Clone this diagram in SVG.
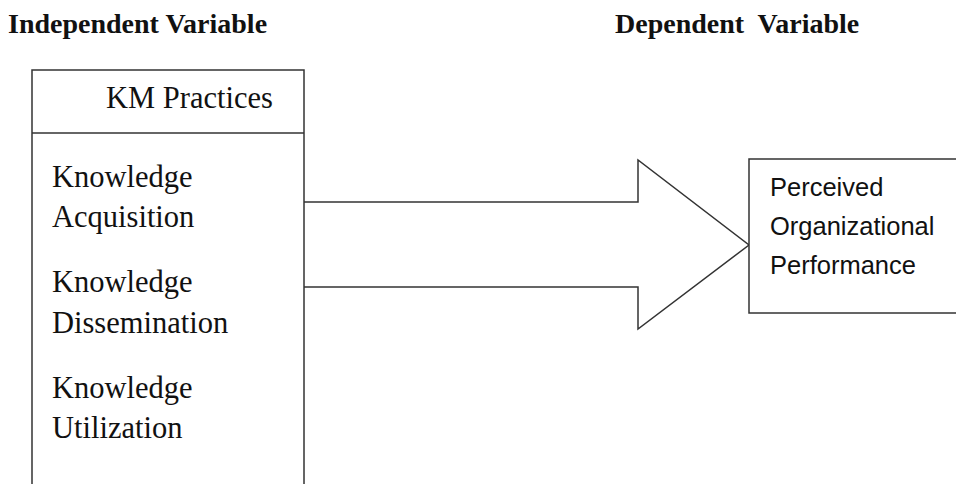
<svg xmlns="http://www.w3.org/2000/svg" width="956" height="484" viewBox="0 0 956 484">
<style>
.box{fill:#fff;stroke:#333;stroke-width:1.5}
.hdr{font-family:"Liberation Serif",serif;font-weight:bold;font-size:28px;fill:#111}
.ser{font-family:"Liberation Serif",serif;font-size:30.5px;fill:#111}
.sans{font-family:"Liberation Sans",Arial,sans-serif;font-size:25.5px;fill:#111}
</style>
<rect width="956" height="484" fill="#fff"/>
<text class="hdr" x="8" y="33">Independent Variable</text>
<text class="hdr" x="615" y="33" xml:space="preserve">Dependent  Variable</text>
<g id="connectors">
<path class="box" d="M304,202 H638 V160 L749,245 L638,329 V287 H304"/>
</g>
<g id="km">
<rect class="box" x="32" y="70" width="272" height="430"/>
<line class="box" x1="32" y1="133" x2="304" y2="133"/>
<text class="ser" x="106" y="108">KM Practices</text>
<text class="ser" x="52" y="187">Knowledge</text>
<text class="ser" x="52" y="227">Acquisition</text>
<text class="ser" x="52" y="292">Knowledge</text>
<text class="ser" x="52" y="333">Dissemination</text>
<text class="ser" x="52" y="398">Knowledge</text>
<text class="ser" x="52" y="438">Utilization</text>
</g>
<g id="perf">
<rect class="box" x="749" y="159" width="230" height="154"/>
<text class="sans" x="770" y="196">Perceived</text>
<text class="sans" x="770" y="235">Organizational</text>
<text class="sans" x="770" y="274">Performance</text>
</g>
</svg>
